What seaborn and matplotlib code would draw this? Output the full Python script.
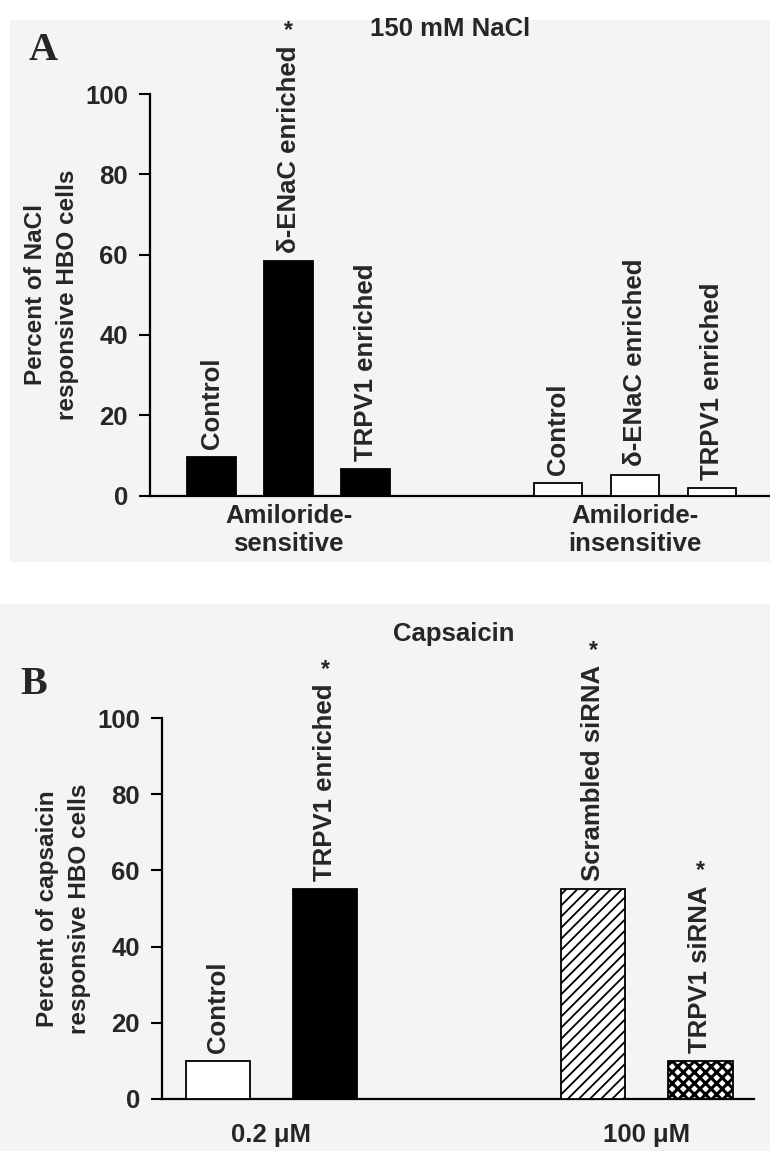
import numpy as np
import pandas as pd
import matplotlib.pyplot as plt
import seaborn as sns
from matplotlib.patches import Rectangle

# Panel A: 150 mM NaCl
nacl_labels = ["Control", "δ-ENaC enriched", "TRPV1 enriched",
               "Control", "δ-ENaC enriched", "TRPV1 enriched"]
nacl_groups = ["Amiloride-\nsensitive"] * 3 + ["Amiloride-\ninsensitive"] * 3
nacl_values = [9.5, 58.4, 6.6, 3.1, 5.2, 1.9]
nacl_sig = [False, True, False, False, False, False]

# Panel B: Capsaicin
caps_labels = ["Control", "TRPV1 enriched", "Scrambled siRNA", "TRPV1 siRNA"]
caps_groups = ["0.2 μM"] * 2 + ["100 μM"] * 2
caps_values = [10, 55, 55, 10]
caps_sig = [False, True, True, True]

yticks = [0, 20, 40, 60, 80, 100]

W, H = 770, 1151
sns.set_style("ticks")
plt.rcParams['font.family'] = ['Liberation Sans', 'DejaVu Sans']
plt.rcParams['font.weight'] = 'bold'
plt.rcParams['hatch.linewidth'] = 1.3

fig = plt.figure(figsize=(W / 100, H / 100), dpi=100)
fig.patch.set_facecolor('white')

# scanned grey backgrounds of the two panels
fig.add_artist(Rectangle((10 / W, 1 - 562 / H), 1, 542 / H, transform=fig.transFigure,
                         facecolor='#f4f4f4', edgecolor='none', zorder=0))
fig.add_artist(Rectangle((0, 0), 1, 1 - 604 / H, transform=fig.transFigure,
                         facecolor='#f4f4f4', edgecolor='none', zorder=0))

FS = 18.5


def draw_panel(rect, labels, groups, values, sig, styles, ylabel, xlim, width, xpad):
    ax = fig.add_axes(rect)
    ax.set_facecolor('none')
    names = list(dict.fromkeys(groups))
    gi = np.array([names.index(g) for g in groups])
    idx = np.arange(len(values))
    pos = idx + 1.5 * gi
    df = pd.DataFrame({'pos': pos, 'value': values})
    sns.barplot(data=df, x='pos', y='value', native_scale=True, width=width,
                color='black', edgecolor='black', linewidth=1.3,
                errorbar=None, ax=ax, zorder=3)
    for p, (fc, hatch) in zip(ax.patches, styles):
        p.set_facecolor(fc)
        p.set_edgecolor('black')
        if hatch:
            p.set_hatch(hatch)
            # dense dotted look for the cross-hatched bar
            if 'x' in hatch and hasattr(p, 'set_hatch_linewidth'):
                p.set_hatch_linewidth(2.2)

    for x, v, lab, s in zip(pos, values, labels, sig):
        t = ax.annotate(lab, (x, v), xytext=(0, 6), textcoords='offset points',
                        rotation=90, ha='center', va='bottom', fontsize=FS,
                        fontweight='bold')
        if s:
            ax.annotate('*', xy=(0.5, 1), xycoords=t, xytext=(0, 2),
                        textcoords='offset points', ha='center', va='bottom',
                        fontsize=FS - 2, fontweight='bold')

    centers = [pos[gi == k].mean() for k in range(len(names))]
    ax.set_xticks(centers)
    ax.set_xticklabels(names, fontsize=FS, fontweight='bold', linespacing=1.2)
    ax.tick_params(axis='x', length=0, pad=xpad)
    ax.set_xlim(*xlim)
    ax.set_ylim(0, 100)
    ax.set_yticks(yticks)
    ax.set_yticklabels([str(v) for v in yticks], fontsize=FS, fontweight='bold')
    ax.tick_params(axis='y', length=8, width=1.5, direction='out', pad=8, color='black')
    ax.set_xlabel('')
    ax.set_ylabel(ylabel, fontsize=FS - 1, fontweight='bold', labelpad=4, linespacing=1.5)
    for sp in ['top', 'right']:
        ax.spines[sp].set_visible(False)
    for sp in ['left', 'bottom']:
        ax.spines[sp].set_linewidth(1.6)
        ax.spines[sp].set_color('black')
    return ax


# panel A
nacl_styles = [('black', None)] * 3 + [('white', None)] * 3
axA = draw_panel([150 / W, 1 - 495.5 / H, (W - 150) / W, 401.5 / H],
                 nacl_labels, nacl_groups, nacl_values, nacl_sig, nacl_styles,
                 "Percent of NaCl\nresponsive HBO cells", (-0.8, 7.25), 0.63, 6)

# panel B
caps_styles = [('white', None), ('black', None), ('white', '///'), ('white', 'xxx')]
axB = draw_panel([162 / W, 1 - 1099 / H, (754 - 162) / W, 381 / H],
                 caps_labels, caps_groups, caps_values, caps_sig, caps_styles,
                 "Percent of capsaicin\nresponsive HBO cells", (-0.52, 5.0), 0.6, 17)

fig.text(450 / W, 1 - 29 / H, "150 mM NaCl", ha='center', va='center',
         fontsize=FS, fontweight='bold')
fig.text(454 / W, 1 - 634 / H, "Capsaicin", ha='center', va='center',
         fontsize=FS, fontweight='bold')
fig.text(29 / W, 1 - 60 / H, "A", ha='left', va='baseline', fontsize=29,
         fontweight='bold', family='Liberation Serif')
fig.text(20 / W, 1 - 694 / H, "B", ha='left', va='baseline', fontsize=29,
         fontweight='bold', family='Liberation Serif')

fig.savefig('out.png', dpi=100, facecolor=fig.get_facecolor())
